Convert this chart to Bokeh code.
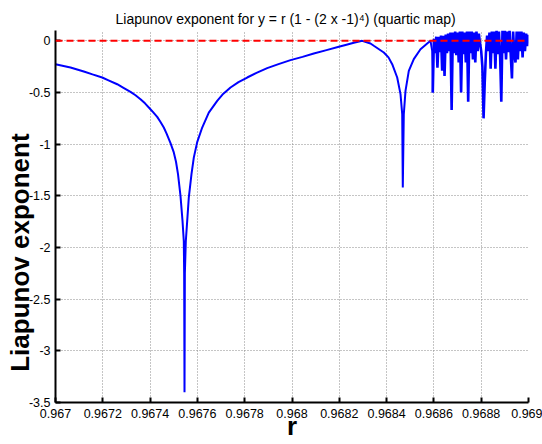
import math
from bokeh.plotting import figure
from bokeh.models import Range1d, FixedTicker, Span
from bokeh.embed import file_html
from bokeh.resources import INLINE

# ---- data ----
r_smooth = [0.9670000, 0.9670634, 0.9671197, 0.9671565, 0.9671975, 0.9672241,
            0.9672609, 0.9672875, 0.9673171, 0.9673383, 0.9673594, 0.9673784,
            0.9673975, 0.9674135, 0.9674300, 0.9674440, 0.9674579, 0.9674693,
            0.9674863, 0.9675002, 0.9675095, 0.9675180, 0.9675285, 0.9675370,
            0.9675425, 0.9675440, 0.9675455, 0.9675470, 0.9675510, 0.9675569,
            0.9675636, 0.9675750, 0.9675848, 0.9675991, 0.9676203, 0.9676482,
            0.9676837, 0.9677061, 0.9677400, 0.9677738, 0.9678106, 0.9678499,
            0.9678951, 0.9679429, 0.9679937, 0.9680444, 0.9680922, 0.9681459,
            0.9681979, 0.9682304, 0.9682613, 0.9682968, 0.9683319, 0.9683459,
            0.9683882, 0.9684080, 0.9684237, 0.9684448, 0.9684588, 0.9684660,
            0.9684685, 0.9684727, 0.9684799, 0.9684939, 0.9685150, 0.9685433,
            0.9685717, 0.9685856, 0.9685928, 0.9685953]
lyap_smooth = [-0.226, -0.258, -0.297, -0.325, -0.355, -0.382,
               -0.420, -0.455, -0.494, -0.527, -0.565, -0.605,
               -0.652, -0.692, -0.736, -0.785, -0.839, -0.895,
               -0.990, -1.080, -1.170, -1.290, -1.500, -1.740,
               -1.940, -2.250, -3.400, -2.250, -1.940, -1.742,
               -1.517, -1.290, -1.130, -0.980, -0.839, -0.694,
               -0.581, -0.520, -0.452, -0.400, -0.355, -0.310,
               -0.264, -0.225, -0.187, -0.155, -0.123, -0.090,
               -0.058, -0.038, -0.019, 0.000, -0.026, -0.048,
               -0.113, -0.160, -0.226, -0.355, -0.516, -0.710,
               -1.420, -0.710, -0.484, -0.290, -0.177, -0.081,
               -0.026, 0.000, -0.097, -0.500]

r_chaos = [0.968600, 0.968605, 0.968610, 0.968615, 0.968620, 0.968625, 0.968630, 0.968635, 0.968640, 0.968645,
           0.968650, 0.968655, 0.968660, 0.968665, 0.968670, 0.968675, 0.968680, 0.968685, 0.968690, 0.968695,
           0.968700, 0.968705, 0.968710, 0.968715, 0.968720, 0.968725, 0.968730, 0.968735, 0.968740, 0.968745,
           0.968750, 0.968755, 0.968760, 0.968765, 0.968770, 0.968775, 0.968780, 0.968785, 0.968790, 0.968795,
           0.968800, 0.968805, 0.968810, 0.968815, 0.968820, 0.968825, 0.968830, 0.968835, 0.968840, 0.968845,
           0.968850, 0.968855, 0.968860, 0.968865, 0.968870, 0.968875, 0.968880, 0.968885, 0.968890, 0.968895,
           0.968900, 0.968905, 0.968910, 0.968915, 0.968920, 0.968925, 0.968930, 0.968935, 0.968940, 0.968945,
           0.968950, 0.968955, 0.968960, 0.968965, 0.968970, 0.968975, 0.968980, 0.968985, 0.968990, 0.968995,
           0.969000]
lyap_chaos = [0.02, -0.12, 0.04, -0.26, 0.04, -0.11, 0.05, -0.29, 0.05, -0.34,
              0.06, -0.12, 0.07, -0.10, 0.08, -0.67, 0.08, -0.12, 0.09, -0.14,
              0.08, -0.21, 0.09, -0.50, 0.09, -0.13, 0.08, -0.21, 0.09, -0.59,
              0.09, -0.12, 0.09, -0.18, 0.08, -0.21, 0.09, -0.10, 0.07, -0.02,
              -0.10, -0.25, -0.75, -0.40, -0.12, 0.05, -0.10, 0.08, -0.27, 0.09,
              -0.12, 0.09, -0.27, 0.10, -0.13, 0.09, -0.15, -0.59, 0.10, -0.12,
              0.10, -0.18, 0.09, -0.11, 0.10, -0.14, -0.365, 0.09, -0.12, -0.21,
              0.09, -0.18, 0.09, -0.10, 0.09, -0.16, 0.08, -0.10, 0.07, -0.05,
              0.06]

zero_level = 0.0

x_ticks = [0.967, 0.9672, 0.9674, 0.9676, 0.9678, 0.968, 0.9682, 0.9684, 0.9686, 0.9688, 0.969]
x_tick_labels = ["0.967", "0.9672", "0.9674", "0.9676", "0.9678", "0.968",
                 "0.9682", "0.9684", "0.9686", "0.9688", "0.969"]
y_ticks = [0, -0.5, -1, -1.5, -2, -2.5, -3, -3.5]
y_tick_labels = ["0", "-0.5", "-1", "-1.5", "-2", "-2.5", "-3", "-3.5"]

title_text = "Liapunov exponent for y = r (1 - (2 x -1)\u2074) (quartic map)"
x_label = "r"
y_label = "Liapunov exponent"

FONT = "Liberation Sans"

x0, x1 = 0.967, 0.969
y0, y1 = -3.5, 0.1

p = figure(width=542, height=444, output_backend="svg", toolbar_location=None,
           x_range=Range1d(x0, x1), y_range=Range1d(y0, y1),
           min_border_left=55, min_border_right=14, min_border_top=30, min_border_bottom=42)
p.outline_line_color = None
p.background_fill_color = "white"
p.border_fill_color = "white"

p.title.text = title_text
p.title.align = "left"
p.title.offset = 60
p.title.standoff = 8
p.title.text_font = FONT
p.title.text_font_size = "14px"
p.title.text_font_style = "normal"
p.title.text_color = "black"

for ax, ticks, labels in ((p.xaxis[0], x_ticks, x_tick_labels), (p.yaxis[0], y_ticks, y_tick_labels)):
    ax.ticker = FixedTicker(ticks=ticks)
    ax.major_label_overrides = {float(t): l for t, l in zip(ticks, labels)}
    ax.axis_line_color = "black"
    ax.axis_line_width = 2
    ax.major_tick_in = 5
    ax.major_tick_out = 0
    ax.major_tick_line_width = 2
    ax.minor_tick_line_color = None
    ax.major_label_text_font = FONT
    ax.major_label_text_font_size = "12.5px"
    ax.major_label_text_color = "black"
    ax.axis_label_text_font = FONT
    ax.axis_label_text_font_size = "26px"
    ax.axis_label_text_font_style = "bold"
    ax.axis_label_text_color = "black"

p.xaxis[0].major_label_standoff = 6
p.yaxis[0].major_label_standoff = 5
p.xaxis[0].axis_label = x_label
p.xaxis[0].axis_label_standoff = -10
p.xaxis[0].axis_label_text_line_height = 0.8
p.yaxis[0].axis_label = y_label + "\u00a0" * 10
p.yaxis[0].axis_label_standoff = -9

for g in (p.xgrid[0], p.ygrid[0]):
    g.grid_line_color = "#8a8a8a"
    g.grid_line_dash = "1 2"
    g.grid_line_width = 1

# smooth part and chaotic band (joined at the last smooth point)
p.line(r_smooth, lyap_smooth, line_color="#0000ff", line_width=2)
p.line(r_smooth[-1:] + r_chaos, lyap_smooth[-1:] + lyap_chaos, line_color="#0000ff", line_width=2.6)

p.add_layout(Span(location=zero_level, dimension="width", line_color="#ff0000",
                  line_width=2, line_dash="7 4"))

open("out.html", "w").write(file_html(p, INLINE))
